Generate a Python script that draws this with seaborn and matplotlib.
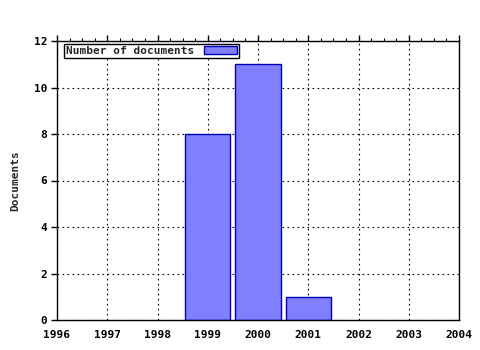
import matplotlib
matplotlib.use("Agg")
import matplotlib.pyplot as plt
import seaborn as sns
import pandas as pd
from matplotlib.ticker import AutoMinorLocator

years = [1999, 2000, 2001]
documents = [8, 11, 1]
xticks = [1996, 1997, 1998, 1999, 2000, 2001, 2002, 2003, 2004]
yticks = [0, 2, 4, 6, 8, 10, 12]
series_name = "Number of documents"

sns.set_style("white")
plt.rcParams['font.family'] = ['DejaVu Sans Mono', 'DejaVu Sans']
plt.rcParams['font.weight'] = 'bold'

df = pd.DataFrame({"year": years, "docs": documents})

fig = plt.figure(figsize=(4.8, 3.5), dpi=100)
ax = fig.add_axes([57/480, 30/350, 402/480, 279/350])

sns.barplot(data=df, x="year", y="docs", native_scale=True, width=0.9,
            color="#8080ff", saturation=1, edgecolor="#0000b8", linewidth=1.0,
            label=series_name, ax=ax)

ax.set_xlim(xticks[0], xticks[-1])
ax.set_ylim(yticks[0], yticks[-1])
ax.set_xticks(xticks)
ax.set_xticklabels([str(t) for t in xticks])
ax.set_yticks(yticks)
ax.xaxis.set_minor_locator(AutoMinorLocator(4))
ax.tick_params(axis='both', which='major', direction='out', length=4, width=1,
               colors='black', labelsize=8, pad=3)
ax.tick_params(axis='x', which='minor', direction='out', length=2, width=0.8,
               colors='black')
ax.tick_params(axis='x', which='both', top=True, labeltop=False)
ax.tick_params(axis='y', which='both', right=False, left=True)
for lab in ax.get_xticklabels() + ax.get_yticklabels():
    lab.set_fontweight('bold')

ax.grid(True, which='major', color='black', linestyle=(0, (1.5, 3)), linewidth=0.8)
ax.set_axisbelow(True)
for s in ax.spines.values():
    s.set_visible(True)
    s.set_color('black')
    s.set_linewidth(1)

ax.set_xlabel("")
ax.set_ylabel("Documents", fontsize=8, fontweight='bold', labelpad=10)

leg = ax.legend(loc='upper left', bbox_to_anchor=(7/402, 1 - 3/279), markerfirst=False,
                frameon=True, fancybox=False, framealpha=1, edgecolor='black',
                prop={'size': 8, 'weight': 'bold'}, borderpad=0.2, handlelength=2.9,
                handleheight=0.7, handletextpad=0.9, borderaxespad=0.0)
leg.get_frame().set_linewidth(1)
leg._legend_box.sep = 0
for t in []:
    pass

fig.savefig("out.png", dpi=100, facecolor='white')
